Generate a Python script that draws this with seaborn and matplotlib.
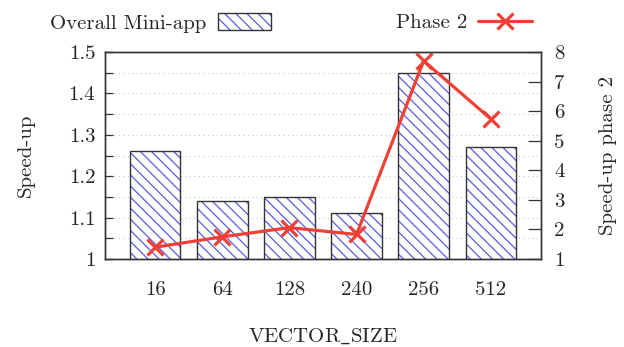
import matplotlib
matplotlib.use('Agg')
import matplotlib.pyplot as plt
import seaborn as sns
import numpy as np
import pandas as pd
from matplotlib.patches import Patch
from matplotlib.lines import Line2D
from matplotlib.colors import to_rgba

categories = ['16', '64', '128', '240', '256', '512']
overall = [1.26, 1.14, 1.15, 1.11, 1.45, 1.27]
phase2 = [1.40, 1.75, 2.06, 1.83, 7.70, 5.74]
left_ticks = [1.0, 1.1, 1.2, 1.3, 1.4, 1.5]
left_minor = [1.05, 1.15, 1.25, 1.35, 1.45]
right_ticks = [1, 2, 3, 4, 5, 6, 7, 8]

BLUE = '#5a5ae6'
RED = '#ee4035'
DARK = '#333333'
FS = 15

sns.set_theme(style='white')
plt.rcParams['font.family'] = ['cmr10', 'DejaVu Serif']
plt.rcParams['mathtext.fontset'] = 'cm'
plt.rcParams['axes.formatter.use_mathtext'] = True
plt.rcParams['hatch.linewidth'] = 0.9
plt.rcParams['font.size'] = FS

fig = plt.figure(figsize=(6.24, 3.47), dpi=100)
ax = fig.add_axes([105/624, 1-259/347, (541-105)/624, (259-52)/347])

df = pd.DataFrame({'size': categories, 'overall': overall, 'phase2': phase2})

sns.barplot(data=df, x='size', y='overall', order=categories, color='white',
            edgecolor=BLUE, hatch='\\\\\\', linewidth=0, width=0.75, ax=ax,
            errorbar=None, saturation=1)
sns.barplot(data=df, x='size', y='overall', order=categories, fill=False,
            color=DARK, linewidth=1.0, width=0.75, ax=ax, errorbar=None,
            saturation=1)

ax.set_xlim(-0.75, len(categories) - 0.25)
ax.set_ylim(1, 1.5)
ax.set_yticks(left_ticks)
ax.set_yticklabels([f'{v:g}' for v in left_ticks])
ax.set_yticks(left_minor, minor=True)
ax.grid(True, axis='y', which='both', linestyle=(0, (1, 3)), color='#c4c4c4', linewidth=0.8)
ax.set_axisbelow(True)
ax.tick_params(axis='y', which='both', direction='in', length=5.8, width=0.9,
               color=DARK, pad=7, labelsize=FS, left=True)
ax.tick_params(axis='x', length=0, pad=16, labelsize=FS)
ax.set_xlabel(r'$\mathrm{VECTOR\_SIZE}$', fontsize=FS, labelpad=20)
ax.set_ylabel('Speed-up', fontsize=FS, labelpad=24)
for s in ax.spines.values():
    s.set_color(DARK)
    s.set_linewidth(1.0)

ax2 = ax.twinx()
sns.lineplot(x=np.arange(len(categories)), y=phase2, ax=ax2, color=RED,
             linewidth=2.3, marker='x', markersize=11, markeredgewidth=2.3,
             markeredgecolor=RED)
ax2.set_ylim(1, 8)
ax2.set_yticks(right_ticks)
ax2.set_yticklabels([str(v) for v in right_ticks])
ax2.tick_params(axis='y', direction='in', length=9.4, width=0.9, color=DARK,
                pad=9.5, labelsize=FS, right=True)
ax2.set_ylabel('Speed-up phase 2', fontsize=FS, labelpad=25)
ax2.grid(False)
for s in ax2.spines.values():
    s.set_color(DARK)
    s.set_linewidth(1.0)
ax2.set_xlim(-0.75, len(categories) - 0.25)

bar_handle = Patch(facecolor='white', edgecolor=DARK, hatch='\\\\\\', linewidth=1.0)
bar_handle._hatch_color = to_rgba(BLUE)
line_handle = Line2D([], [], color=RED, linewidth=2.3, marker='x', markersize=12,
                     markeredgewidth=2.3)

fig.legend([bar_handle], ['Overall Mini-app'], loc='center right',
           bbox_to_anchor=(271/624, 1-23/347), markerfirst=False, frameon=False,
           handlelength=2.55, handleheight=0.82, handletextpad=0.55, borderpad=0,
           borderaxespad=0, fontsize=FS)
fig.legend([line_handle], ['Phase 2'], loc='center right',
           bbox_to_anchor=(532/624, 1-23/347), markerfirst=False, frameon=False,
           handlelength=2.6, handletextpad=0.5, borderpad=0,
           borderaxespad=0, fontsize=FS)

fig.savefig('out.png', dpi=100)
